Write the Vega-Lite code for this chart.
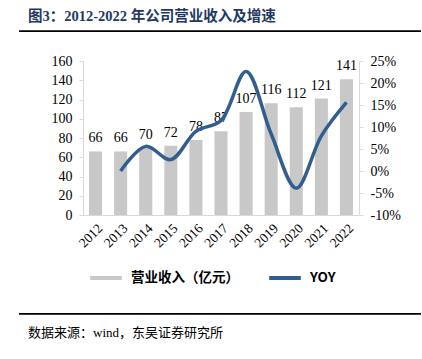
{
  "$schema": "https://vega.github.io/schema/vega-lite/v6.json",
  "padding": {"left": 18, "top": 8, "right": 2, "bottom": 10},
  "background": "white",
  "spacing": 20,
  "resolve": {"scale": {"color": "independent"}, "legend": {"color": "independent"}},
  "vconcat": [
    {
      "width": 402,
      "height": 10,
      "view": {"stroke": "transparent"},
      "title": {"text": "图3：2012-2022 年公司营业收入及增速", "anchor": "start", "dx": 9, "offset": -2, "font": "Liberation Serif, Noto Sans CJK SC", "fontSize": 14.5, "fontWeight": "bold", "color": "#1F3864"},
      "data": {"values": [{"y0": 0, "y1": 0.18, "x0": 0, "x1": 1}]},
      "mark": {"type": "rect", "color": "#000"},
      "encoding": {
        "x": {"field": "x0", "type": "quantitative", "scale": {"domain": [0, 1]}, "axis": null},
        "x2": {"field": "x1"},
        "y": {"field": "y0", "type": "quantitative", "scale": {"domain": [0, 1]}, "axis": null},
        "y2": {"field": "y1"}
      }
    },
    {
      "resolve": {"scale": {"color": "independent"}, "legend": {"color": "independent"}},
      "hconcat": [
        {
          "width": 10,
          "height": 154,
          "view": {"stroke": "transparent"},
          "data": {"values": []},
          "mark": "point"
        },
        {
          "width": 276,
          "height": 154,
          "view": {"stroke": "transparent"},
          "data": {"values": [
            {"year": "2012", "rev": 66, "yoy": null},
            {"year": "2013", "rev": 66, "yoy": 0},
            {"year": "2014", "rev": 70, "yoy": 5.6},
            {"year": "2015", "rev": 72, "yoy": 2.6},
            {"year": "2016", "rev": 78, "yoy": 9},
            {"year": "2017", "rev": 87, "yoy": 11.5},
            {"year": "2018", "rev": 107, "yoy": 22.6},
            {"year": "2019", "rev": 116, "yoy": 8.4},
            {"year": "2020", "rev": 112, "yoy": -3.9},
            {"year": "2021", "rev": 121, "yoy": 8},
            {"year": "2022", "rev": 141, "yoy": 15.6}
          ]},
          "encoding": {
            "x": {"field": "year", "type": "ordinal", "scale": {"paddingInner": 0.48, "paddingOuter": 0.24},
              "axis": {"title": null, "grid": false, "labelAngle": -45, "ticks": false, "labelPadding": 6, "labelFont": "Liberation Serif", "labelFontSize": 13.5, "labelColor": "#000", "domainColor": "#D9D9D9"}}
          },
          "layer": [
            {
              "encoding": {
                "y": {"field": "rev", "type": "quantitative", "scale": {"domain": [0, 160]},
                  "axis": {"title": null, "grid": false, "values": [0, 20, 40, 60, 80, 100, 120, 140, 160], "labelPadding": 7, "labelFont": "Liberation Serif", "labelFontSize": 14, "labelColor": "#000", "domainColor": "#D9D9D9", "tickColor": "#D9D9D9", "tickSize": 4}}
              },
              "layer": [
                {"mark": {"type": "bar"},
                 "encoding": {"color": {"datum": "营业收入（亿元）", "scale": {"domain": ["营业收入（亿元）", "YOY"], "range": ["#C8C8C8", "#325D91"]},
                   "legend": {"title": null, "orient": "bottom", "direction": "horizontal", "symbolType": "stroke", "symbolSize": 1000, "symbolStrokeWidth": 4, "labelFont": "Noto Sans CJK SC", "labelFontSize": 13.5, "labelFontWeight": "bold", "labelColor": "#000", "labelOffset": 7, "columnPadding": 22, "offset": 5, "padding": 5}}}},
                {"mark": {"type": "text", "baseline": "alphabetic", "dy": -9, "fontSize": 14, "font": "Liberation Serif", "color": "#000"},
                 "encoding": {"text": {"field": "rev", "type": "quantitative"}}}
              ]
            },
            {
              "mark": {"type": "line", "interpolate": "catmull-rom", "strokeWidth": 3.5},
              "encoding": {
                "y": {"field": "yoy", "type": "quantitative", "scale": {"domain": [-10, 25]},
                  "axis": {"title": null, "grid": false, "orient": "right", "values": [-10, -5, 0, 5, 10, 15, 20, 25], "labelExpr": "datum.value + '%'", "labelPadding": 7, "labelFont": "Liberation Serif", "labelFontSize": 14, "labelColor": "#000", "domainColor": "#D9D9D9", "tickColor": "#D9D9D9", "tickSize": 4}},
                "color": {"datum": "YOY",
                  "legend": {"title": null, "orient": "bottom", "direction": "horizontal", "symbolType": "stroke", "symbolSize": 1000, "symbolStrokeWidth": 4, "labelFont": "Noto Sans CJK SC", "labelFontSize": 13.5, "labelFontWeight": "bold", "labelColor": "#000", "labelOffset": 7, "columnPadding": 22, "offset": 5, "padding": 5}}
              }
            }
          ],
          "resolve": {"scale": {"y": "independent"}}
        }
      ]
    },
    {
      "width": 402,
      "height": 10,
      "view": {"stroke": "transparent"},
      "title": {"text": "数据来源：wind，东吴证券研究所", "orient": "bottom", "anchor": "start", "dx": 9, "offset": 4, "font": "Liberation Serif, Noto Sans CJK SC", "fontSize": 13, "fontWeight": "normal", "color": "#000"},
      "data": {"values": [{"y0": 0.82, "y1": 1, "x0": 0, "x1": 1}]},
      "mark": {"type": "rect", "color": "#000"},
      "encoding": {
        "x": {"field": "x0", "type": "quantitative", "scale": {"domain": [0, 1]}, "axis": null},
        "x2": {"field": "x1"},
        "y": {"field": "y0", "type": "quantitative", "scale": {"domain": [0, 1]}, "axis": null},
        "y2": {"field": "y1"}
      }
    }
  ]
}
